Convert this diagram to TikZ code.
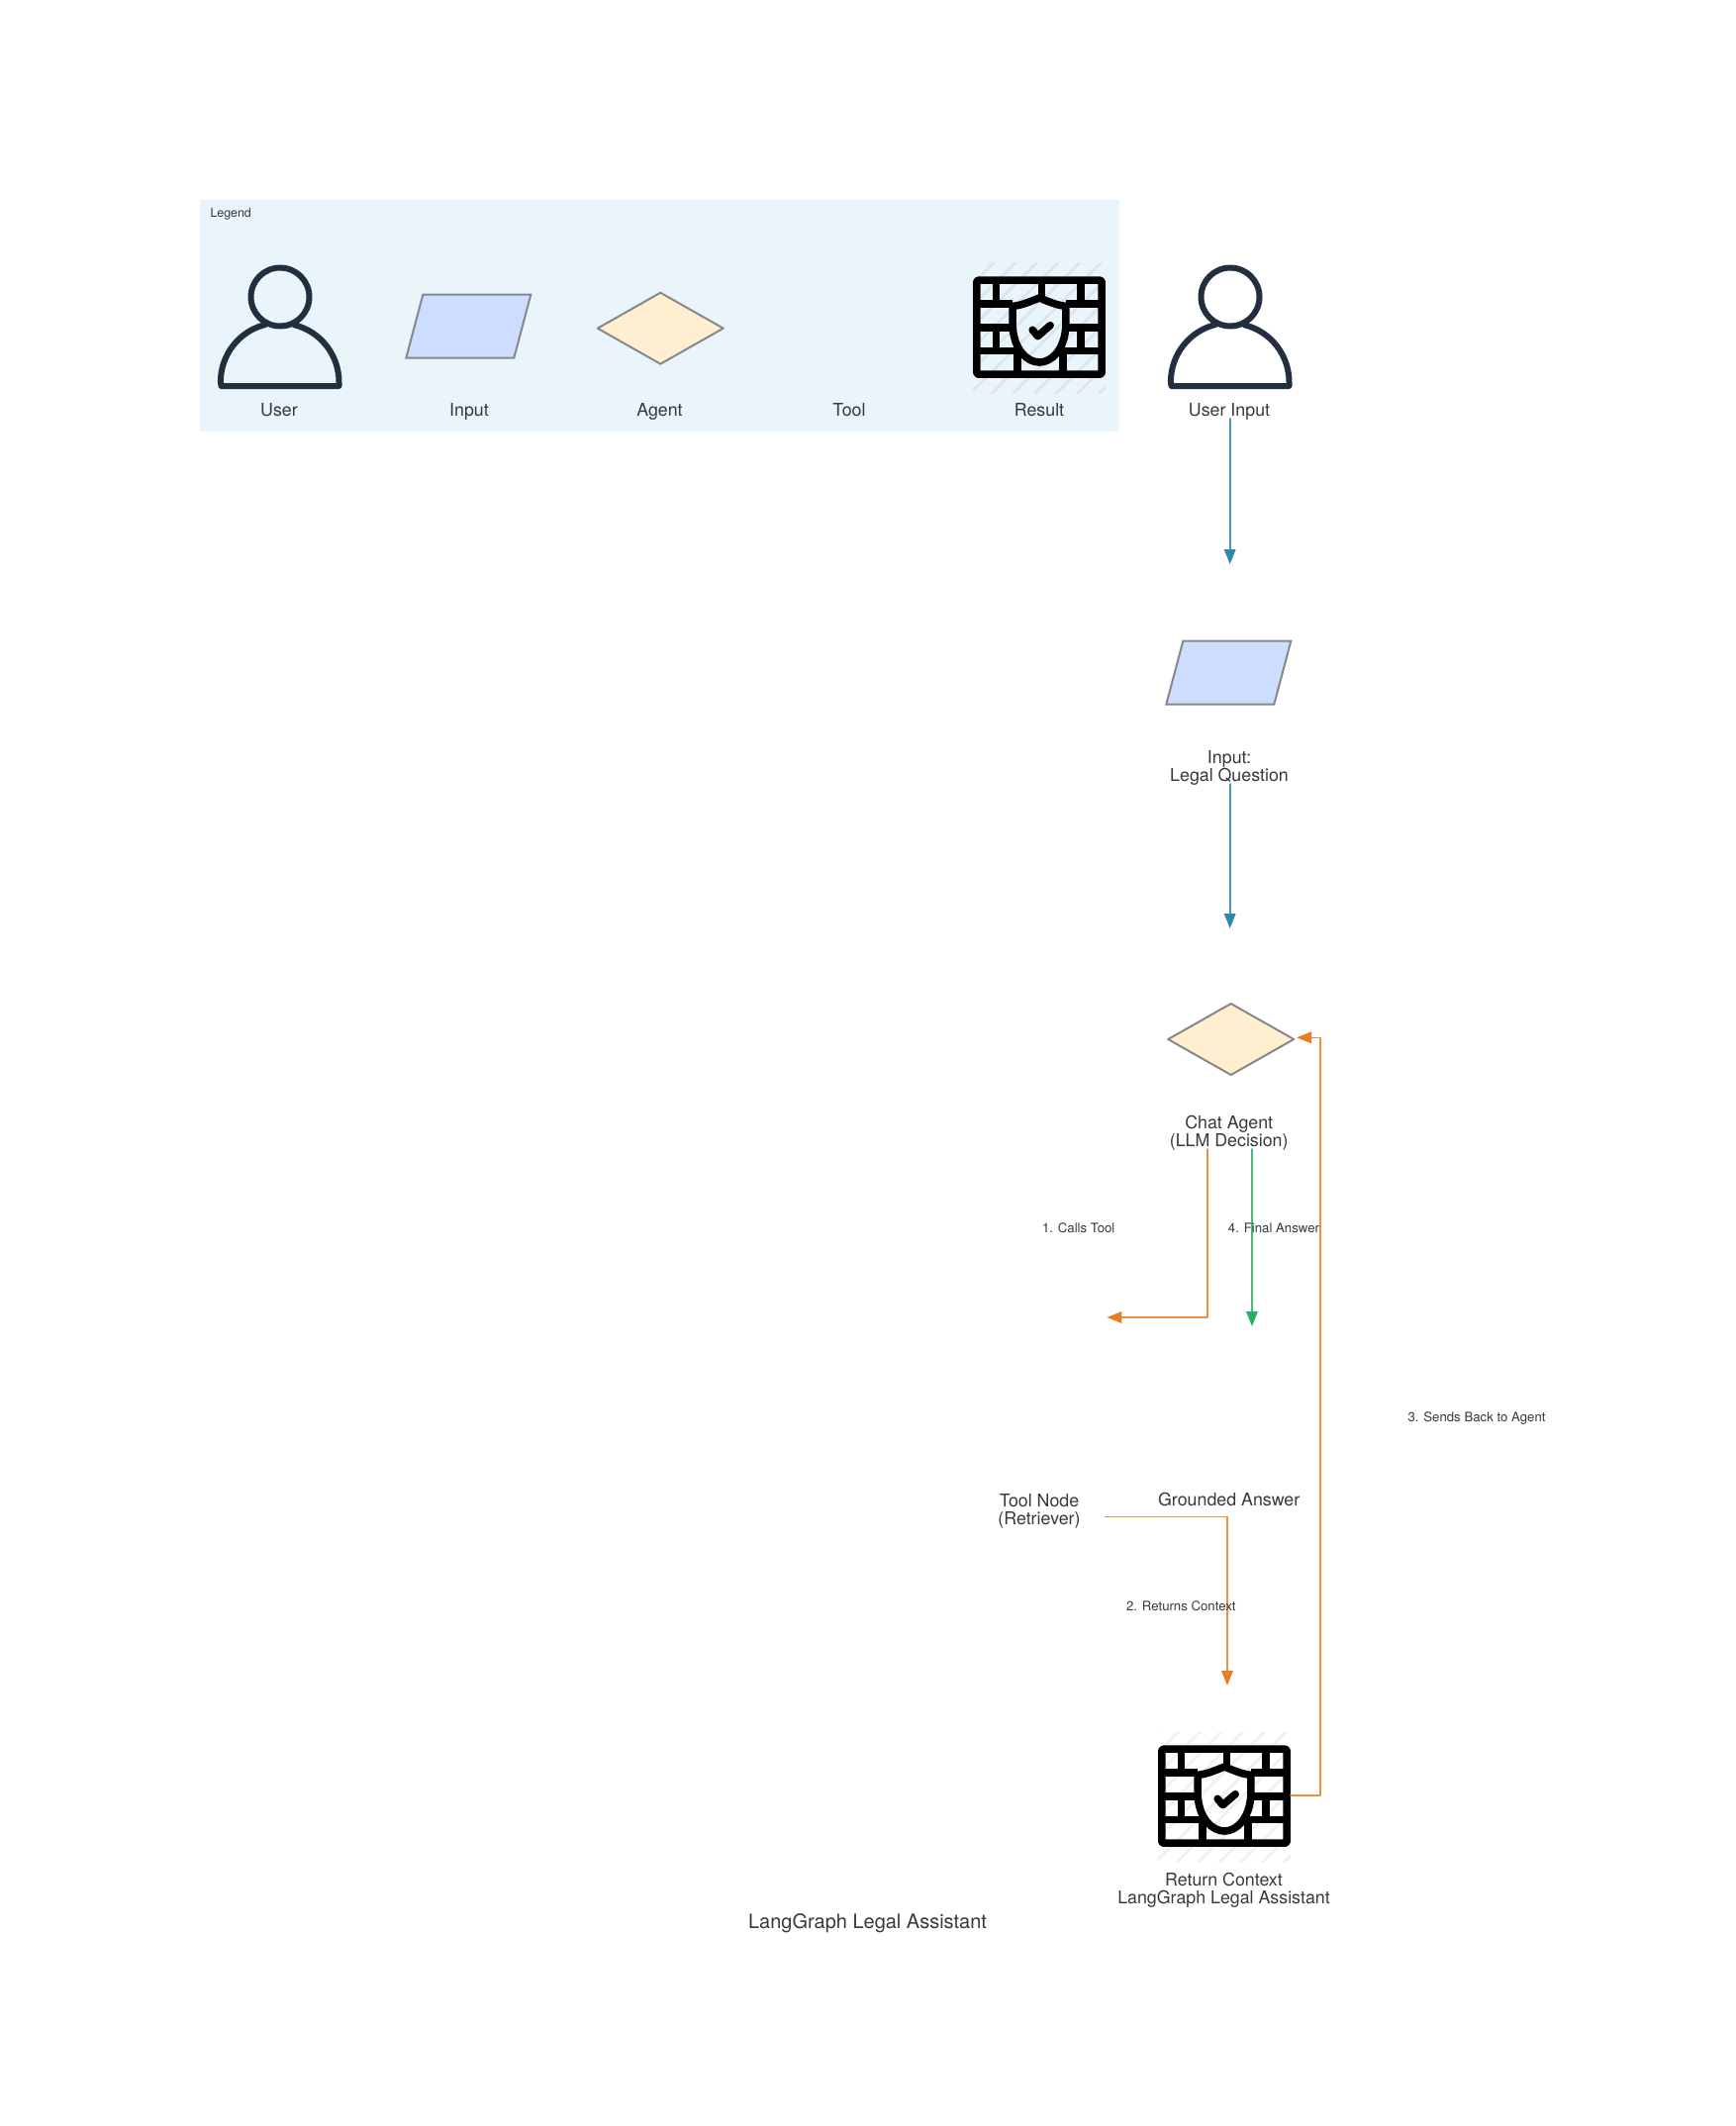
\documentclass[tikz,border=0pt]{standalone}
\usepackage{fontspec}
\setmainfont{TeX Gyre Heros}
\usetikzlibrary{arrows.meta,shapes.geometric}
\definecolor{legendbg}{rgb}{0.914,0.961,0.984}
\definecolor{iconnavy}{rgb}{0.137,0.184,0.243}
\definecolor{inputblue}{rgb}{0.8,0.867,1.}
\definecolor{agentcream}{rgb}{1.,0.937,0.816}
\definecolor{shapegray}{rgb}{0.533,0.533,0.533}
\definecolor{textgray}{rgb}{0.2,0.224,0.24}
\definecolor{flowblue}{rgb}{0.18,0.525,0.67}
\definecolor{floworange}{rgb}{0.902,0.494,0.133}
\definecolor{flowgreen}{rgb}{0.153,0.682,0.376}
\tikzset{
  every node/.style={font=\fontsize{17.8}{18}\selectfont,text=textgray,inner sep=0pt,outer sep=0pt,align=center,text height=15pt,text depth=3pt},
  twolines/.style={text height=33pt},
  edgelabel/.style={font=\fontsize{13.2}{14}\selectfont,text height=11pt,text depth=2pt},
  shapeline/.style={draw=shapegray,line width=2pt},
  agentshape/.style={shapeline,fill=agentcream,diamond,aspect=1.76,minimum width=127pt,minimum height=72pt},
  flow/.style={line width=1.6pt,draw=#1!85!white,-{Triangle[length=15pt,width=11.5pt,color=#1]}},
  inputicon/.pic={
    \draw [shapeline,fill=inputblue,line join=miter] (-46,-32) -- (63,-32) -- (46,32) -- (-63,32) -- cycle;
  },
  wallicon/.pic={
    \begin{scope}[scale=1/3]
      \begin{scope}
        \clip (100,45) rectangle (503,442);
        \foreach \i in {-300,-235,...,500}
          \draw [line width=2.7pt,black,opacity=0.06,line cap=butt] (\i,445) -- (\i+400,45);
      \end{scope}
      \begin{scope}[line width=7.6pt,black,line cap=butt]
        \draw [rounded corners=2pt] (112,99.5) rectangle (491,384.5);
        \draw (112,171.5) -- (221,171.5) (382,171.5) -- (491,171.5);
        \draw (112,242.5) -- (221,242.5) (382,242.5) -- (491,242.5);
        \draw (112,313.5) -- (245,313.5) (358,313.5) -- (491,313.5);
        \draw (171.5,99.5) -- (171.5,171.5) (309,99.5) -- (309,150) (428,99.5) -- (428,171.5);
        \draw (171.5,242.5) -- (171.5,313.5) (428,242.5) -- (428,313.5);
        \draw (236,313.5) -- (236,384.5) (373.5,313.5) -- (373.5,384.5);
        \draw (302,153) .. controls (270,166) and (245,176) .. (221,178) -- (221,240)
          .. controls (225,310) and (265,348) .. (302,348)
          .. controls (339,348) and (378,310) .. (382,240) -- (382,178)
          .. controls (358,176) and (334,166) .. (302,153) -- cycle;
        \draw [line cap=round,line join=round] (281,250) -- (297,269) -- (335,236);
      \end{scope}
    \end{scope}
  },
  usericon/.pic={
    \draw [iconnavy,line width=6pt] (0,0) circle (29.5pt);
    \draw [iconnavy,line width=6pt,line join=round] (-15,28) arc (104:180:59.5pt) -- (-59.5,90) -- (59.5,90) -- (59.5,86) arc (0:76:59.5pt);
  }
}
\begin{document}
\begin{tikzpicture}[line cap=round,line join=round,x=1pt,y=-1pt]
\useasboundingbox (0,0) rectangle (1754,2148);
\fill [legendbg] (201.5,202) rectangle (1131,436);
\node [anchor=west,font=\fontsize{12.4}{13}\selectfont,text height=10pt,text depth=2pt] (legendtitle) at (212.5,215) {Legend};
% legend row
\pic (legenduser) at (283,300) {usericon};
\pic (legendinput) at (473.3,329.7) {inputicon};
\node [agentshape] (legendagent) at (667.3,331.7) {};
\pic (legendwall) at (949.5,250) {wallicon};
\node (userlabel) at (282,414) {User};
\node (inputlabel) at (474,414) {Input};
\node (agentlabel) at (666.5,414) {Agent};
\node (toollabel) at (858,414) {Tool};
\node (resultlabel) at (1050,414) {Result};
% main column
\pic (mainuser) at (1243,300) {usericon};
\node (mainuserlabel) at (1242,414) {User Input};
\pic (maininput) at (1241.3,679.7) {inputicon};
\node [twolines] (maininputlabel) at (1242,774) {Input:\\Legal Question};
\node [agentshape] (mainagent) at (1243.7,1050) {};
\node [twolines] (mainagentlabel) at (1241.7,1143) {Chat Agent\\(LLM Decision)};
\node [twolines] (maintoollabel) at (1050,1525) {Tool Node\\(Retriever)};
\node (answerlabel) at (1241.7,1515) {Grounded Answer};
\pic (mainwall) at (1136.5,1734) {wallicon};
\node [twolines] (returnlabel) at (1236.5,1908) {Return Context\\LangGraph Legal Assistant};
\node [font=\fontsize{20}{20}\selectfont,text height=16pt] (charttitle) at (876.5,1942) {LangGraph Legal Assistant};
% free ends of the connectors
\coordinate (inputtip) at (1242.7,570);
\coordinate (agenttip) at (1242.7,938);
\coordinate (tooltip) at (1118.3,1331);
\coordinate (answertip) at (1265,1340);
\coordinate (returntip) at (1240,1703);
\coordinate (agentback) at (1310,1048.3);
\coordinate (wallout) at (1304,1814);
% connectors
\draw [flow=flowblue] (mainuserlabel.south -| inputtip) -- (inputtip);
\draw [flow=flowblue] (maininputlabel.south -| agenttip) -- (agenttip);
\draw [flow=floworange] ([xshift=-21.7pt]mainagentlabel.south) |- (tooltip);
\draw [flow=flowgreen] (mainagentlabel.south -| answertip) -- (answertip);
\draw [flow=floworange] ([xshift=25pt,yshift=-7.3pt]maintoollabel.east) -| (returntip);
\draw [flow=floworange] (wallout) -- (1334,1814) |- (agentback);
% connector labels
\node [edgelabel] (callslabel) at (1089.7,1240.7) {1. Calls Tool};
\node [edgelabel] (finallabel) at (1287,1240.7) {4. Final Answer};
\node [edgelabel] (returnslabel) at (1193.3,1623.3) {2. Returns Context};
\node [edgelabel] (sendslabel) at (1492,1432) {3. Sends Back to Agent};
\end{tikzpicture}
\end{document}
